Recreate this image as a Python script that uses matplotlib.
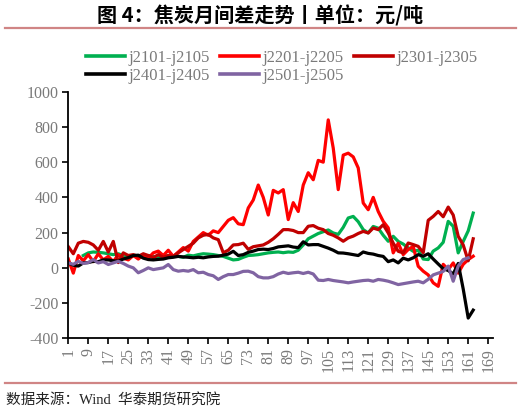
import numpy as np
import matplotlib
matplotlib.use("Agg")
import matplotlib.pyplot as plt
from matplotlib.lines import Line2D

nan = np.nan

# x positions (every 2nd trading-day index)
idx = np.arange(1, 165, 2)

j2101 = [nan, nan, nan, 70, 85, 90, 88, 85, 80, 75,
         80, 70, 65, 70, 60, 65, 70, 65, 60, 65,
         70, 68, 65, 60, 72, 68, 75, 80, 78, 75,
         70, 65, 55, 45, 48, 60, 70, 72, 75, 80,
         85, 88, 90, 86, 90, 88, 100, 130, 165, 180,
         195, 205, 215, 198, 190, 230, 283, 292, 262, 217,
         198, 235, 225, 185, 151, 179, 150, 135, 113, 94,
         100, 50, 47, 95, 113, 145, 264, 236, 85, 150,
         210, 311]

j2201 = [50, -30, 70, 40, 75, 35, 80, 45, 65, 35,
         75, 55, 45, 70, 50, 75, 55, 85, 95, 70,
         100, 65, 90, 115, 95, 150, 175, 200, 185, 210,
         200, 235, 270, 285, 250, 245, 340, 385, 470, 400,
         300, 440, 425, 444, 274, 370, 320, 470, 540, 500,
         610, 600, 840, 680, 444, 640, 651, 630, 567, 368,
         330, 400, 320, 264, 227, 85, 140, 75, 104, 122,
         9, -19, -40, -85, -105, 20, -10, 28, -30, 20,
         47, 66]

j2301 = [120, 80, 140, 150, 145, 130, 100, 150, 90, 150,
         30, 85, 70, 75, 65, 80, 70, 58, 75, 60,
         70, 65, 85, 104, 122, 140, 170, 185, 190, 170,
         160, 86, 100, 130, 132, 140, 105, 120, 125, 130,
         145, 165, 190, 217, 217, 212, 200, 200, 236, 240,
         225, 217, 195, 185, 170, 151, 170, 180, 195, 207,
         198, 226, 217, 245, 198, 140, 94, 85, 141, 132,
         122, 86, 270, 292, 320, 290, 345, 300, 179, 130,
         40, 165]

j2401 = [28, 15, 10, 28, 30, 37, 35, 45, 45, 40,
         38, 50, 58, 70, 72, 55, 47, 45, 48, 50,
         57, 60, 65, 62, 60, 57, 60, 57, 62, 65,
         66, 72, 78, 94, 70, 75, 88, 95, 104, 106,
         104, 110, 119, 122, 125, 118, 115, 148, 130, 132,
         132, 122, 112, 100, 85, 84, 80, 75, 70, 90,
         82, 78, 70, 65, 35, 45, 28, 55, 45, 57,
         75, 66, 80, 50, 22, -5, -15, -35, 25, -120,
         -285, -240]

j2501 = [28, 20, 37, 25, 30, 47, 28, 35, 19, 28,
         37, 25, 10, 0, -28, -15, 0, -10, -5, 0,
         19, -10, -19, -15, -19, -10, -28, -25, -38, -45,
         -66, -50, -38, -38, -30, -20, -19, -28, -50, -57,
         -57, -50, -35, -25, -32, -28, -25, -32, -25, -35,
         -70, -72, -66, -72, -76, -80, -85, -80, -76, -72,
         -70, -76, -66, -70, -76, -85, -95, -90, -85, -80,
         -76, -85, -65, -40, -30, -20, 10, -76, 10, 47,
         57, nan]

series = [
    ("j2101-j2105", j2101, "#00B050"),
    ("j2201-j2205", j2201, "#FF0000"),
    ("j2301-j2305", j2301, "#C00000"),
    ("j2401-j2405", j2401, "#000000"),
    ("j2501-j2505", j2501, "#8064A2"),
]

xtick_vals = list(range(1, 170, 8))
ytick_vals = list(range(-400, 1001, 200))

grey = "#7a7a7a"
serif = ["Liberation Serif", "Noto Sans CJK SC"]

fig = plt.figure(figsize=(5.21, 4.13), dpi=100)
ax = fig.add_axes([68.3 / 521, 1 - 338.3 / 413, (492.7 - 68.3) / 521, (338.3 - 91.7) / 413])

handles = []
for name, vals, col in series:
    ln, = ax.plot(idx, vals, color=col, lw=2.3, label=name, solid_joinstyle="round")
    handles.append(ln)

ax.set_xlim(1, 170.8)
ax.set_ylim(-400, 1000)
ax.set_xticks(xtick_vals)
ax.set_xticklabels([str(v) for v in xtick_vals], rotation=90, fontsize=11.5,
                   family=serif, color=grey)
ax.set_yticks(ytick_vals)
ax.set_yticklabels([str(v) for v in ytick_vals], fontsize=11.5, family=serif, color=grey)
ax.tick_params(axis="both", direction="out", length=4, width=1.2, color="black", pad=3)
for s in ["top", "right"]:
    ax.spines[s].set_visible(False)
for s in ["left", "bottom"]:
    ax.spines[s].set_linewidth(1.3)

# legend ordered so that rows read green, red, dark red / black, purple
order = [0, 3, 1, 4, 2]
leg = fig.legend([handles[i] for i in order], [series[i][0] for i in order],
                 ncol=3, loc="upper left", bbox_to_anchor=(86 / 521, 1 - 50 / 413),
                 frameon=False, borderpad=0, borderaxespad=0,
                 handlelength=2.35, handletextpad=0.2, columnspacing=0.6,
                 labelspacing=0.1, prop={"family": serif, "size": 12})
for t in leg.get_texts():
    t.set_color(grey)
for h in leg.legend_handles:
    h.set_linewidth(2.6)

fig.text(0.5, 1 - 16 / 413, "图 4：焦炭月间差走势丨单位：元/吨", ha="center", va="center",
         fontsize=14.5, fontweight="bold", family=["Noto Sans CJK SC", "DejaVu Sans"])

sep = "#D08585"
fig.add_artist(Line2D([5 / 521, 516 / 521], [1 - 28.3 / 413] * 2, color=sep, lw=1.6))
fig.add_artist(Line2D([5 / 521, 516 / 521], [1 - 383.3 / 413] * 2, color=sep, lw=1.6))

fig.text(6 / 521, 1 - 400 / 413, "数据来源：Wind  华泰期货研究院", ha="left", va="center",
         fontsize=10.5, family=serif, color="#222222")

fig.savefig("out.png", dpi=100)
